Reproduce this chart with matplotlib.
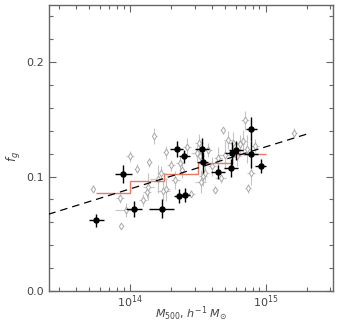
import numpy as np
from matplotlib import pyplot as plt

# cluster sample (filled circles)
cl_logm = [13.75, 13.951, 14.03, 14.233, 14.344, 14.361, 14.40, 14.405, 14.53,
           14.535, 14.648, 14.744, 14.75, 14.78, 14.895, 14.892, 14.963]
cl_fg = [0.0618, 0.102, 0.072, 0.072, 0.1243, 0.083, 0.1175, 0.084, 0.1243,
         0.1123, 0.1038, 0.1073, 0.1202, 0.1228, 0.1412, 0.1193, 0.1094]
cl_xerr = [0.055, 0.065, 0.06, 0.09, 0.05, 0.04, 0.04, 0.04, 0.05,
           0.04, 0.05, 0.05, 0.05, 0.05, 0.04, 0.05, 0.04]
cl_yerr = [0.0055, 0.008, 0.007, 0.008, 0.007, 0.006, 0.006, 0.006, 0.009,
           0.009, 0.006, 0.008, 0.01, 0.008, 0.0105, 0.012, 0.006]

# comparison sample (open diamonds)
cmp_logm = [13.725, 13.936, 13.929, 14.0, 13.97, 14.05, 14.098, 14.123, 14.142,
            14.135, 14.179, 14.209, 14.229, 14.246, 14.263, 14.263, 14.302,
            14.335, 14.367, 14.38, 14.42, 14.45, 14.493, 14.507, 14.516, 14.52,
            14.535, 14.552, 14.577, 14.606, 14.626, 14.65, 14.668, 14.683,
            14.70, 14.72, 14.76, 14.79, 14.81, 14.83, 14.849, 14.864, 14.87,
            14.89, 14.92, 15.21]
cmp_fg = [0.0895, 0.0565, 0.081, 0.1175, 0.071, 0.107, 0.0796, 0.0868, 0.1123,
          0.0912, 0.135, 0.098, 0.103, 0.0877, 0.121, 0.089, 0.1097,
          0.097, 0.1118, 0.106, 0.126, 0.0848, 0.1205, 0.129, 0.1175, 0.0956,
          0.1006, 0.103, 0.1234, 0.1088, 0.0883, 0.116, 0.0986, 0.1404,
          0.119, 0.132, 0.129, 0.1175, 0.128, 0.1307, 0.149, 0.124, 0.0898,
          0.103, 0.127, 0.1383]
cmp_xerr = [0.02, 0.02, 0.03, 0.03, 0.08, 0.02, 0.03, 0.03, 0.02,
            0.04, 0.02, 0.06, 0.03, 0.05, 0.02, 0.03, 0.03,
            0.03, 0.03, 0.02, 0.03, 0.03, 0.04, 0.03, 0.03, 0.04,
            0.03, 0.03, 0.03, 0.03, 0.02, 0.03, 0.04, 0.02,
            0.05, 0.03, 0.04, 0.03, 0.03, 0.03, 0.03, 0.03, 0.02,
            0.03, 0.03, 0.02]
cmp_yerr = [0.003, 0.002, 0.004, 0.005, 0.006, 0.004, 0.005, 0.006, 0.004,
            0.012, 0.007, 0.012, 0.006, 0.008, 0.006, 0.01, 0.005,
            0.008, 0.006, 0.007, 0.008, 0.003, 0.007, 0.008, 0.006, 0.01,
            0.009, 0.007, 0.006, 0.008, 0.003, 0.01, 0.004, 0.003,
            0.012, 0.008, 0.01, 0.008, 0.008, 0.01, 0.008, 0.012, 0.004,
            0.01, 0.006, 0.004]

# binned mean (red steps)
bin_edges = [10**13.75, 10**14.0, 10**14.25, 10**14.5, 10**14.75, 10**15.0]
bin_fg = [0.086, 0.0962, 0.1018, 0.112, 0.120]

# best fit (dashed)
fit_m = [2.5e13, 2.0e15]
fit_fg = [0.067, 0.137]


def logerr(logm, dex):
    m = 10 ** np.array(logm)
    d = np.array(dex)
    return m, [m - m / 10 ** d, m * 10 ** d - m]


fig = plt.figure(figsize=(3.38, 3.24), dpi=100)
ax = fig.add_axes([0.145, 0.102, 0.84, 0.883])

m, xe = logerr(cmp_logm, cmp_xerr)
ax.errorbar(m, cmp_fg, xerr=xe, yerr=cmp_yerr, fmt='d', ms=3.5, mfc='white',
            mec='#a8a8a8', mew=0.7, ecolor='#c4c4c4', elinewidth=0.8, capsize=0,
            zorder=2)

ax.stairs(bin_fg, bin_edges, baseline=None, color='#e87a66', lw=1.0, zorder=3)
ax.plot(fit_m, fit_fg, color='k', lw=0.9, dashes=(6, 4), zorder=3)

m, xe = logerr(cl_logm, cl_xerr)
ax.errorbar(m, cl_fg, xerr=xe, yerr=cl_yerr, fmt='o', ms=3.6, color='k',
            ecolor='k', elinewidth=1.0, capsize=0, zorder=4)

ax.set_xscale('log')
ax.set_xlim(2.53e13, 3.13e15)
ax.set_ylim(0, 0.25)
ax.set_yticks([0.0, 0.1, 0.2])
ax.set_yticks(np.arange(0, 0.25, 0.02), minor=True)
ax.set_yticklabels(['0.0', '0.1', '0.2'])
ax.set_xticks([1e14, 1e15])
ax.set_xticklabels([r'$10^{14}$', r'$10^{15}$'])

for s in ax.spines.values():
    s.set_color('#666666')
    s.set_linewidth(1.0)
ax.tick_params(which='both', direction='in', top=True, right=True,
               colors='#666666', labelcolor='#444444', labelsize=8)
ax.tick_params(which='major', length=5, width=0.8)
ax.tick_params(axis='x', which='major', pad=2)
ax.tick_params(which='minor', length=3, width=0.8)

ax.set_xlabel(r'$M_{500}$, $h^{-1}$ $M_{\odot}$', fontsize=8, color='#444444')
ax.xaxis.set_label_coords(0.5, -0.048)
ax.set_ylabel(r'$f_g$', fontsize=8.5, color='#444444')
ax.yaxis.set_label_coords(-0.09, 0.47)

fig.savefig('out.png', dpi=100)
